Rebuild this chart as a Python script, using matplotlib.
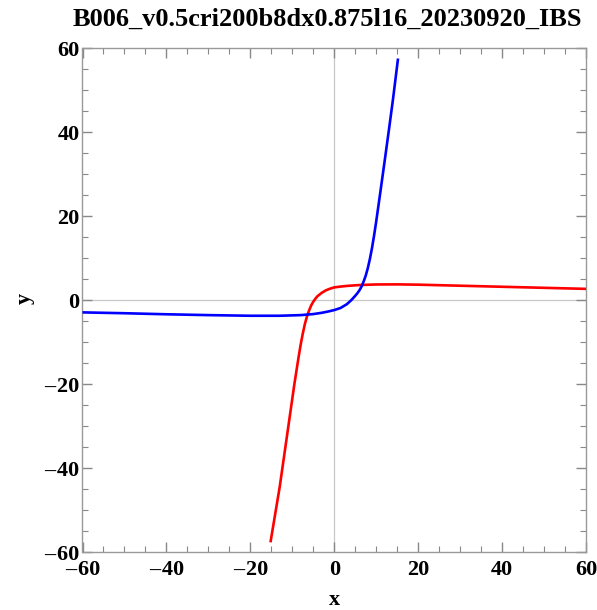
import matplotlib
matplotlib.use("Agg")
import matplotlib.pyplot as plt
from matplotlib.ticker import MultipleLocator, FuncFormatter

title = "B006_v0.5cri200b8dx0.875l16_20230920_IBS"

red_x = [-15.2, -14.0, -13.0, -12.0, -11.0, -10.0, -9.5, -9.0, -8.5, -8.0, -7.5, -7.0,
         -6.5, -6.0, -5.5, -5.0, -4.5, -4.0, -3.0, -2.0, -1.0, 0.0, 1.5, 3.0, 5.0, 7.0,
         10.0, 15.0, 20.0, 30.0, 40.0, 50.0, 60.0]
red_y = [-57.7, -50.5, -44.5, -37.5, -30.5, -23.5, -20.0, -16.8, -13.6, -10.6, -8.0, -5.7,
         -3.9, -2.5, -1.3, -0.4, 0.3, 0.9, 1.7, 2.3, 2.7, 3.0, 3.2, 3.35, 3.5, 3.6,
         3.7, 3.72, 3.65, 3.4, 3.15, 2.9, 2.65]

blue_x = [-60.0, -50.0, -40.0, -30.0, -20.0, -13.0, -8.0, -5.0, -3.0, -1.5, 0.0, 1.5,
          3.0, 4.0, 5.0, 5.5, 6.0, 6.5, 7.0, 7.5, 8.0, 8.5, 9.0, 9.5, 10.0, 11.0,
          12.0, 13.0, 14.0, 15.2]
blue_y = [-2.95, -3.15, -3.4, -3.6, -3.75, -3.75, -3.6, -3.35, -3.05, -2.75, -2.4, -1.9,
          -1.0, -0.1, 1.0, 1.6, 2.3, 3.2, 4.4, 5.8, 7.6, 9.8, 12.4, 15.4, 18.7, 25.8,
          33.0, 40.3, 47.8, 57.5]

xlim = (-60, 60)
ylim = (-60, 60)

font = "Liberation Serif"
plt.rcParams["font.family"] = [font, "DejaVu Serif"]
plt.rcParams["font.weight"] = "bold"

fig = plt.figure(figsize=(5.97, 6.10), dpi=100)
W, H = 597, 610
left, right, top, bottom = 82.5, 586, 48, 552
ax = fig.add_axes([left / W, 1 - bottom / H, (right - left) / W, (bottom - top) / H])

ax.axhline(0, color="#c8c8c8", lw=0.9, zorder=1)
ax.axvline(0, color="#c8c8c8", lw=0.9, zorder=1)

ax.plot(red_x, red_y, color="#ff0000", lw=1.9, zorder=3, solid_capstyle="butt")
ax.plot(blue_x, blue_y, color="#0000ff", lw=1.9, zorder=3, solid_capstyle="butt")

ax.set_xlim(*xlim)
ax.set_ylim(*ylim)
ax.xaxis.set_major_locator(MultipleLocator(20))
ax.yaxis.set_major_locator(MultipleLocator(20))
ax.xaxis.set_minor_locator(MultipleLocator(5))
ax.yaxis.set_minor_locator(MultipleLocator(5))

def fmt(v, pos):
    v = int(round(v))
    return ("\u2013\u200a%d" % -v) if v < 0 else "%d" % v

ax.xaxis.set_major_formatter(FuncFormatter(fmt))
ax.yaxis.set_major_formatter(FuncFormatter(fmt))
ax.tick_params(which="both", direction="in", top=True, right=True, color="#888888",
               labelsize=16)
ax.tick_params(axis="x", pad=6)
ax.tick_params(axis="y", pad=2)
ax.tick_params(which="major", length=7, width=1.0)
ax.tick_params(which="minor", length=4, width=0.8)
ax.tick_params(top=True, right=True, labeltop=False, labelright=False)
for s in ax.spines.values():
    s.set_color("#999999")
    s.set_linewidth(1.0)

fig.text(334 / W, 1 - 600 / H, "x", fontsize=16, fontweight="bold",
         ha="center", va="center")
fig.text(25 / W, 1 - 298 / H, "y", fontsize=16, fontweight="bold",
         ha="center", va="center", rotation=90)
fig.text(327 / W, 1 - 26 / H, title, fontsize=19, fontweight="bold",
         ha="center", va="baseline")

fig.savefig("out.png", dpi=100)
